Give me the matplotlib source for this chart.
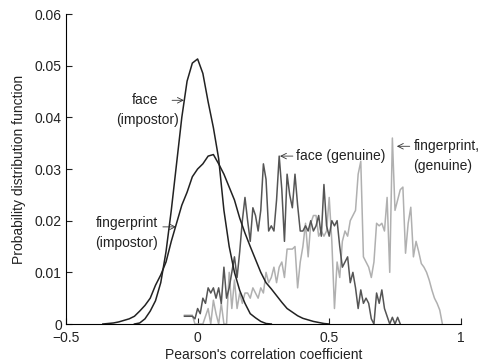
import numpy as np
import matplotlib
matplotlib.use("Agg")
import matplotlib.pyplot as plt

plt.rcParams["font.family"] = ["Liberation Sans", "DejaVu Sans"]

# impostor curves, sampled every 0.02 from their first x value
face_imp_x0 = -0.24
face_imp_y = [0.0, 0.0002, 0.001, 0.0025, 0.0045, 0.008, 0.014, 0.022, 0.031,
              0.040, 0.047, 0.0505, 0.0513, 0.0485, 0.043, 0.038, 0.032, 0.022,
              0.015, 0.010, 0.0065, 0.004, 0.002, 0.0012, 0.0005, 0.0001, 0.0]

fp_imp_x0 = -0.36
fp_imp_y = [0.0, 0.0001, 0.0002, 0.0004, 0.0007, 0.001, 0.0015, 0.0025, 0.0036,
            0.005, 0.0075, 0.0095, 0.012, 0.016, 0.0195, 0.023, 0.0255, 0.0285,
            0.030, 0.031, 0.0325, 0.0328, 0.031, 0.029, 0.0265, 0.024, 0.0205,
            0.0176, 0.015, 0.0125, 0.010, 0.008, 0.0068, 0.0055, 0.0042, 0.003,
            0.0023, 0.0016, 0.0011, 0.0008, 0.0005, 0.0003, 0.0001, 0.0]

# genuine histograms, bins of 0.01 from their first x value
face_gen_x0 = -0.05
face_gen_y = [0.0015, 0.0015, 0.0015, 0.0015, 0.001, 0.003, 0.002, 0.005, 0.004,
              0.007, 0.006, 0.007, 0.005, 0.007, 0.004, 0.011, 0.005, 0.007,
              0.010, 0.013, 0.009, 0.014, 0.020, 0.0245, 0.020, 0.016, 0.0225,
              0.021, 0.018, 0.022, 0.031, 0.028, 0.018, 0.019, 0.018, 0.024,
              0.0325, 0.026, 0.016, 0.029, 0.025, 0.0225, 0.029, 0.023, 0.018,
              0.018, 0.019, 0.018, 0.020, 0.018, 0.019, 0.021, 0.017, 0.027,
              0.019, 0.017, 0.020, 0.019, 0.020, 0.015, 0.011, 0.012, 0.013,
              0.008, 0.010, 0.007, 0.003, 0.0066, 0.004, 0.005, 0.004, 0.001,
              0.0, 0.006, 0.004, 0.0066, 0.003, 0.0015, 0.0, 0.0013, 0.0,
              0.0013, 0.0]

fp_gen_x0 = -0.05
fp_gen_y = [0.0017, 0.0017, 0.0017, 0.0017, 0.0, 0.0, 0.0, 0.0, 0.0015, 0.003,
            0.0, 0.0046, 0.002, 0.0, 0.004, 0.0, 0.0, 0.010, 0.003, 0.0085,
            0.003, 0.006, 0.004, 0.006, 0.006, 0.005, 0.007, 0.006, 0.005,
            0.007, 0.006, 0.010, 0.008, 0.009, 0.011, 0.008, 0.011, 0.012,
            0.009, 0.0145, 0.0145, 0.0145, 0.015, 0.007, 0.012, 0.015, 0.0195,
            0.013, 0.0195, 0.021, 0.021, 0.017, 0.018, 0.017, 0.018, 0.0245,
            0.016, 0.003, 0.012, 0.009, 0.016, 0.018, 0.017, 0.020, 0.021,
            0.022, 0.029, 0.0315, 0.013, 0.012, 0.011, 0.009, 0.012, 0.0195,
            0.019, 0.0195, 0.018, 0.0245, 0.010, 0.036, 0.022, 0.024, 0.026,
            0.0265, 0.0137, 0.0195, 0.0226, 0.013, 0.016, 0.014, 0.0117, 0.011,
            0.010, 0.0085, 0.0066, 0.005, 0.004, 0.0027, 0.0]

x_ticks = [-0.5, 0, 0.5, 1]
x_tick_labels = ["\u22120.5", "0", "0.5", "1"]
y_ticks = [0, 0.01, 0.02, 0.03, 0.04, 0.05, 0.06]
y_tick_labels = ["0", "0.01", "0.02", "0.03", "0.04", "0.05", "0.06"]


def grid(x0, step, values):
    # bin positions for a list of samples
    return x0 + step * np.arange(len(values))


fig = plt.figure(figsize=(4.8, 3.63), dpi=100)
ax = fig.add_axes([0.1375, 0.1074, 0.8225, 0.854])

ax.plot(grid(fp_gen_x0, 0.01, fp_gen_y), fp_gen_y, color="#b0b0b0", lw=1.1)
ax.plot(grid(face_gen_x0, 0.01, face_gen_y), face_gen_y, color="#555555", lw=1.1)
ax.plot(grid(fp_imp_x0, 0.02, fp_imp_y), fp_imp_y, color="#222222", lw=1.1)
ax.plot(grid(face_imp_x0, 0.02, face_imp_y), face_imp_y, color="#222222", lw=1.1)

ax.set_xlim(-0.5, 1)
ax.set_ylim(0, 0.06)
ax.set_xticks(x_ticks)
ax.set_xticklabels(x_tick_labels)
ax.set_yticks(y_ticks)
ax.set_yticklabels(y_tick_labels)
ax.spines["top"].set_visible(False)
ax.spines["right"].set_visible(False)
ax.tick_params(direction="in", length=4, labelsize=10, pad=3, colors="#222222")
ax.tick_params(axis="x", pad=5)
ax.set_xlabel("Pearson's correlation coefficient", fontsize=10, labelpad=2,
              color="#222222")
ax.set_ylabel("Probability distribution function", fontsize=10, labelpad=6,
              color="#222222")

txt = dict(fontsize=10, color="#222222", va="center")
arr = dict(arrowstyle="->", lw=0.6, color="#333333", shrinkA=0, shrinkB=0)

ax.text(-0.2, 0.0433, "face", ha="center", **txt)
ax.text(-0.19, 0.0395, "(impostor)", ha="center", **txt)
ax.annotate("", xy=(-0.052, 0.0433), xytext=(-0.097, 0.0433), arrowprops=arr)

ax.text(-0.268, 0.0195, "fingerprint", ha="center", **txt)
ax.text(-0.272, 0.0157, "(impostor)", ha="center", **txt)
ax.annotate("", xy=(-0.082, 0.0188), xytext=(-0.132, 0.0188), arrowprops=arr)

ax.text(0.374, 0.0325, "face (genuine)", ha="left", **txt)
ax.annotate("", xy=(0.313, 0.0325), xytext=(0.362, 0.0325), arrowprops=arr)

ax.text(0.822, 0.0344, "fingerprint,", ha="left", **txt)
ax.text(0.818, 0.0306, "(genuine)", ha="left", **txt)
ax.annotate("", xy=(0.757, 0.0344), xytext=(0.806, 0.0344), arrowprops=arr)

fig.savefig("out.png", dpi=100)
